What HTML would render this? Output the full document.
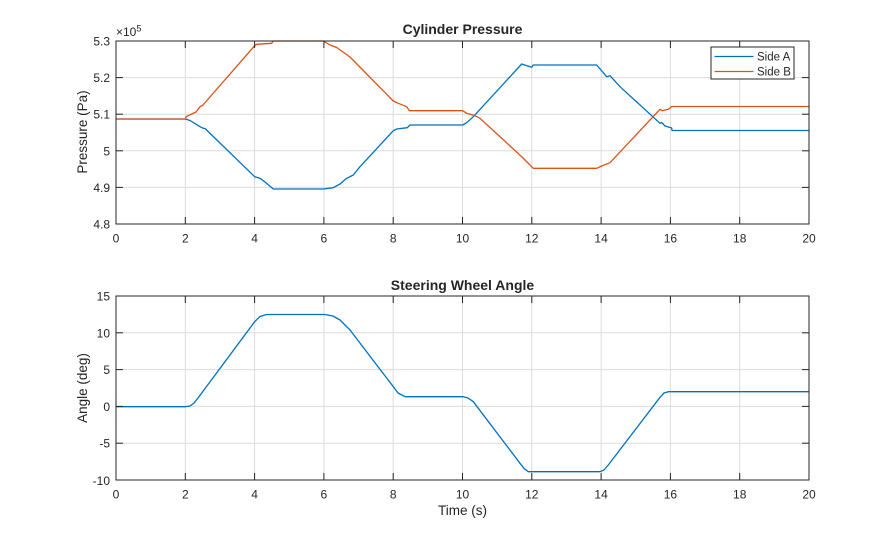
<!DOCTYPE html>
<html><head><meta charset="utf-8"><style>
html,body{margin:0;padding:0;background:#fff;}
svg{display:block;}
text{font-family:"Liberation Sans",Helvetica,Arial,sans-serif;fill:#262626;}
</style></head><body>
<svg width="895" height="540" viewBox="0 0 895 540" xmlns="http://www.w3.org/2000/svg">
<rect width="895" height="540" fill="#fff"/>
<!-- TOP AXES -->
<rect x="116" y="41" width="693" height="183" fill="#fff"/>
<g stroke="#dcdcdc" stroke-width="1">
<line x1="185.3" y1="41" x2="185.3" y2="224"/><line x1="254.6" y1="41" x2="254.6" y2="224"/><line x1="323.9" y1="41" x2="323.9" y2="224"/><line x1="393.2" y1="41" x2="393.2" y2="224"/><line x1="462.5" y1="41" x2="462.5" y2="224"/><line x1="531.8" y1="41" x2="531.8" y2="224"/><line x1="601.1" y1="41" x2="601.1" y2="224"/><line x1="670.4" y1="41" x2="670.4" y2="224"/><line x1="739.7" y1="41" x2="739.7" y2="224"/>
<line x1="116" y1="77.6" x2="809" y2="77.6"/><line x1="116" y1="114.2" x2="809" y2="114.2"/><line x1="116" y1="150.8" x2="809" y2="150.8"/><line x1="116" y1="187.4" x2="809" y2="187.4"/>
</g>
<polyline fill="none" stroke="#0072BD" stroke-width="1.3" stroke-linejoin="round" points="116,119 185.3,119 190,120.5 200,126.7 203.3,128.3 205,128.5 254.7,176.7 260,178.3 265,182 273.3,189 323.3,189 333.3,187.7 340,184 346.7,178.3 353.3,175 360,166.7 393.3,130.7 396.7,129 407.3,127.7 410,125 462.7,125 466.7,122.7 473.3,116.7 521.7,64 531.7,67.3 533.3,65 596.7,65 606.7,76.7 610,75.7 620,86.7 660,123.3 661.7,122.5 665,126 671.7,128 672,130.5 809,130.5"/>
<polyline fill="none" stroke="#D95319" stroke-width="1.3" stroke-linejoin="round" points="116,119 185.3,119 186,116.7 191.7,114 196,112 200,106.7 203,105 254.7,45.7 256.7,44.3 271.7,43.3 273.3,41 323.3,41 330,45 336.7,47.5 350,57 393.3,101 398.3,103.3 406.7,106.7 409.3,110.7 462.7,110.7 466.7,113.3 475,115.7 480,118.3 521.7,156.7 525,160 533.3,168.3 596.7,168.3 601.7,166 610,162.7 660,109.3 662.3,110.7 668.3,109.3 671.7,106.5 809,106.5"/>
<rect x="116" y="41" width="693" height="183" fill="none" stroke="#262626" stroke-width="1"/>
<g stroke="#262626" stroke-width="1">
<line x1="185.3" y1="224" x2="185.3" y2="217"/><line x1="254.6" y1="224" x2="254.6" y2="217"/><line x1="323.9" y1="224" x2="323.9" y2="217"/><line x1="393.2" y1="224" x2="393.2" y2="217"/><line x1="462.5" y1="224" x2="462.5" y2="217"/><line x1="531.8" y1="224" x2="531.8" y2="217"/><line x1="601.1" y1="224" x2="601.1" y2="217"/><line x1="670.4" y1="224" x2="670.4" y2="217"/><line x1="739.7" y1="224" x2="739.7" y2="217"/>
<line x1="185.3" y1="41" x2="185.3" y2="48"/><line x1="254.6" y1="41" x2="254.6" y2="48"/><line x1="323.9" y1="41" x2="323.9" y2="48"/><line x1="393.2" y1="41" x2="393.2" y2="48"/><line x1="462.5" y1="41" x2="462.5" y2="48"/><line x1="531.8" y1="41" x2="531.8" y2="48"/><line x1="601.1" y1="41" x2="601.1" y2="48"/><line x1="670.4" y1="41" x2="670.4" y2="48"/><line x1="739.7" y1="41" x2="739.7" y2="48"/>
<line x1="116" y1="77.6" x2="123" y2="77.6"/><line x1="116" y1="114.2" x2="123" y2="114.2"/><line x1="116" y1="150.8" x2="123" y2="150.8"/><line x1="116" y1="187.4" x2="123" y2="187.4"/>
<line x1="809" y1="77.6" x2="802" y2="77.6"/><line x1="809" y1="114.2" x2="802" y2="114.2"/><line x1="809" y1="150.8" x2="802" y2="150.8"/><line x1="809" y1="187.4" x2="802" y2="187.4"/>
</g>
<g font-size="12" text-anchor="middle">
<text x="116" y="242.5">0</text><text x="185.3" y="242.5">2</text><text x="254.6" y="242.5">4</text><text x="323.9" y="242.5">6</text><text x="393.2" y="242.5">8</text><text x="462.5" y="242.5">10</text><text x="531.8" y="242.5">12</text><text x="601.1" y="242.5">14</text><text x="670.4" y="242.5">16</text><text x="739.7" y="242.5">18</text><text x="809" y="242.5">20</text>
</g>
<g font-size="12" text-anchor="end">
<text x="110" y="45.5">5.3</text><text x="110" y="82.1">5.2</text><text x="110" y="118.7">5.1</text><text x="110" y="155.3">5</text><text x="110" y="191.9">4.9</text><text x="110" y="228.5">4.8</text>
</g>
<text x="116" y="36" font-size="12">×10<tspan font-size="9" dy="-4.5">5</tspan></text>
<text x="462.5" y="34" font-size="14" font-weight="bold" text-anchor="middle">Cylinder Pressure</text>
<text transform="translate(87,132) rotate(-90)" font-size="13.5" text-anchor="middle">Pressure (Pa)</text>
<!-- legend -->
<rect x="711" y="47" width="83" height="32" fill="#fff" stroke="#262626" stroke-width="1"/>
<line x1="714.5" y1="56.5" x2="753.5" y2="56.5" stroke="#0072BD" stroke-width="1.3"/>
<line x1="714.5" y1="71.5" x2="753.5" y2="71.5" stroke="#D95319" stroke-width="1.3"/>
<text x="757" y="60.7" font-size="11.5">Side A</text>
<text x="757" y="75.7" font-size="11.5">Side B</text>

<!-- BOTTOM AXES -->
<g stroke="#dcdcdc" stroke-width="1">
<line x1="185.3" y1="296" x2="185.3" y2="480"/><line x1="254.6" y1="296" x2="254.6" y2="480"/><line x1="323.9" y1="296" x2="323.9" y2="480"/><line x1="393.2" y1="296" x2="393.2" y2="480"/><line x1="462.5" y1="296" x2="462.5" y2="480"/><line x1="531.8" y1="296" x2="531.8" y2="480"/><line x1="601.1" y1="296" x2="601.1" y2="480"/><line x1="670.4" y1="296" x2="670.4" y2="480"/><line x1="739.7" y1="296" x2="739.7" y2="480"/>
<line x1="116" y1="332.8" x2="809" y2="332.8"/><line x1="116" y1="369.6" x2="809" y2="369.6"/><line x1="116" y1="406.4" x2="809" y2="406.4"/><line x1="116" y1="443.2" x2="809" y2="443.2"/>
</g>
<polyline fill="none" stroke="#0072BD" stroke-width="1.3" stroke-linejoin="round" points="116,406.7 185.3,406.7 190,406 194,403 198,398 254.7,321.7 260,316.5 266.7,314.5 325,314.5 333,316 340,320 350,330 393.3,386.7 398,393 405,396.7 463.3,396.7 468,398 473.3,401.7 520,463.3 524,468.5 528.3,471.7 600,471.7 604,470 608.3,465 660,397.3 664,393 668.3,391.7 809,391.7"/>
<rect x="116" y="296" width="693" height="184" fill="none" stroke="#262626" stroke-width="1"/>
<g stroke="#262626" stroke-width="1">
<line x1="185.3" y1="480" x2="185.3" y2="473"/><line x1="254.6" y1="480" x2="254.6" y2="473"/><line x1="323.9" y1="480" x2="323.9" y2="473"/><line x1="393.2" y1="480" x2="393.2" y2="473"/><line x1="462.5" y1="480" x2="462.5" y2="473"/><line x1="531.8" y1="480" x2="531.8" y2="473"/><line x1="601.1" y1="480" x2="601.1" y2="473"/><line x1="670.4" y1="480" x2="670.4" y2="473"/><line x1="739.7" y1="480" x2="739.7" y2="473"/>
<line x1="185.3" y1="296" x2="185.3" y2="303"/><line x1="254.6" y1="296" x2="254.6" y2="303"/><line x1="323.9" y1="296" x2="323.9" y2="303"/><line x1="393.2" y1="296" x2="393.2" y2="303"/><line x1="462.5" y1="296" x2="462.5" y2="303"/><line x1="531.8" y1="296" x2="531.8" y2="303"/><line x1="601.1" y1="296" x2="601.1" y2="303"/><line x1="670.4" y1="296" x2="670.4" y2="303"/><line x1="739.7" y1="296" x2="739.7" y2="303"/>
<line x1="116" y1="332.8" x2="123" y2="332.8"/><line x1="116" y1="369.6" x2="123" y2="369.6"/><line x1="116" y1="406.4" x2="123" y2="406.4"/><line x1="116" y1="443.2" x2="123" y2="443.2"/>
<line x1="809" y1="332.8" x2="802" y2="332.8"/><line x1="809" y1="369.6" x2="802" y2="369.6"/><line x1="809" y1="406.4" x2="802" y2="406.4"/><line x1="809" y1="443.2" x2="802" y2="443.2"/>
</g>
<g font-size="12" text-anchor="middle">
<text x="116" y="498.5">0</text><text x="185.3" y="498.5">2</text><text x="254.6" y="498.5">4</text><text x="323.9" y="498.5">6</text><text x="393.2" y="498.5">8</text><text x="462.5" y="498.5">10</text><text x="531.8" y="498.5">12</text><text x="601.1" y="498.5">14</text><text x="670.4" y="498.5">16</text><text x="739.7" y="498.5">18</text><text x="809" y="498.5">20</text>
</g>
<g font-size="12" text-anchor="end">
<text x="110" y="300.5">15</text><text x="110" y="337.3">10</text><text x="110" y="374.1">5</text><text x="110" y="410.9">0</text><text x="110" y="447.7">-5</text><text x="110" y="485">-10</text>
</g>
<text x="462.5" y="290" font-size="14" font-weight="bold" text-anchor="middle">Steering Wheel Angle</text>
<text transform="translate(87,388) rotate(-90)" font-size="13.5" text-anchor="middle">Angle (deg)</text>
<text x="462.5" y="515" font-size="13.5" text-anchor="middle">Time (s)</text>
</svg>
</body></html>
